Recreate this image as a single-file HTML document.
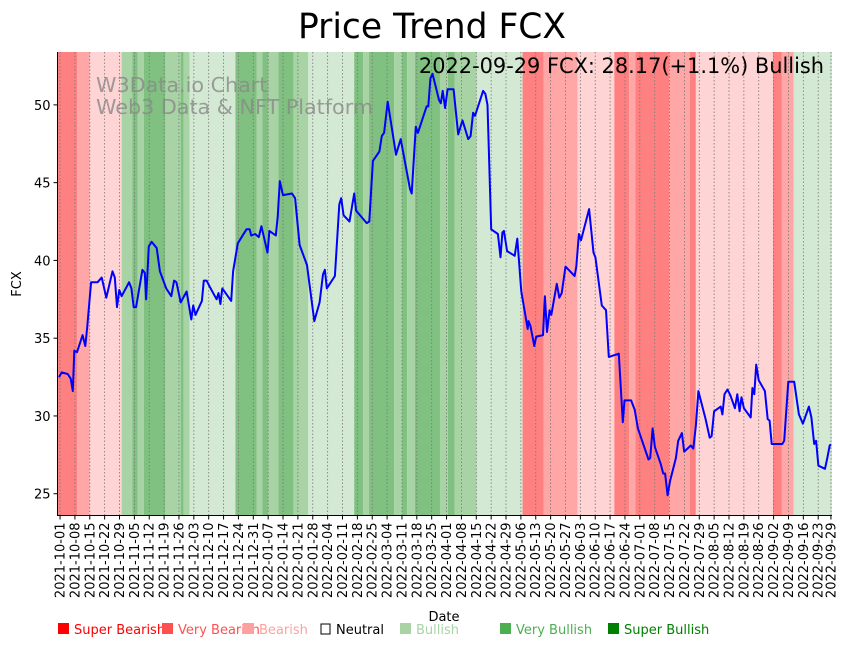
<!DOCTYPE html>
<html><head><meta charset="utf-8"><title>Price Trend FCX</title>
<style>
html,body{margin:0;padding:0;background:#fff;}
svg{display:block;font-family:"DejaVu Sans","Liberation Sans",sans-serif;}
</style></head>
<body>
<svg id="chart" width="851" height="646" viewBox="0 0 851 646" xmlns="http://www.w3.org/2000/svg">
<text x="432" y="38" font-size="34.5" text-anchor="middle" fill="#000">Price Trend FCX</text>
<g id="bands"></g>
<g id="grid"></g>
<g fill="#888" fill-opacity="0.8" font-size="20.7">
<text x="96" y="92">W3Data.io Chart</text>
<text x="96" y="114">Web3 Data &amp; NFT Platform</text>
</g>
<path id="priceLine" fill="none" stroke="#0000ff" stroke-width="2" stroke-linejoin="round"/>
<text x="824" y="73" font-size="20.9" text-anchor="end" fill="#000">2022-09-29 FCX: 28.17(+1.1%) Bullish</text>
<line x1="57.5" y1="52" x2="57.5" y2="515.5" stroke="#000" stroke-width="1"/>
<line x1="57" y1="515.5" x2="832" y2="515.5" stroke="#000" stroke-width="1"/>
<g id="yticks"></g>
<g id="xticks"></g>
<text transform="translate(21,284) rotate(-90)" font-size="13" text-anchor="middle">FCX</text>
<text x="444" y="621" font-size="13" text-anchor="middle">Date</text>
<g id="legend" font-size="13"></g>
</svg>
<script>
// ---- data ----
const startDate = "2021-10-01";
const priceDays = [-0.5,0.8,3.6,5,6,6.7,8,10.6,11.9,12.8,14.6,17.7,19.6,21.8,24.7,25.8,26.8,27.9,29,32.5,33.6,34.7,35.8,38.8,39.9,40.5,41.8,43.1,45.5,47,48.4,50,52.4,53.7,54.8,56.8,59.6,61.8,62.7,63.8,66.8,67.7,69,70.9,73.7,74.6,75.5,76.4,80.6,81.5,83.7,87.8,89.3,90,91.9,93.6,94.8,97.7,98.6,101.6,102.5,103.5,105,109.2,110.7,112.8,116.3,119.7,122.2,123.8,124.7,125.6,129.4,131.5,132.4,133.5,136.3,138.5,139.4,144.4,145.6,147.3,150.4,151.5,152.6,154.3,158.2,160.4,164.8,165.6,167.5,168.5,172.6,173.4,174.4,175.4,178.5,179.3,180.2,181.3,182.5,185.3,187.5,189.5,192.2,193.3,194.5,195.4,199.2,200.3,201.3,203,206.2,207.4,208.3,209,210.5,214.1,215.3,217.2,220.2,220.6,221.5,223.3,224.2,227.4,228.3,229.3,230.5,231.3,233.9,235.1,236.2,238,242.3,243.1,244.3,245.3,249.1,251.2,252.1,255.1,257.1,258.4,263.1,265,265.8,268.9,270.6,272.1,277.1,277.9,279,280.1,282.9,284,284.9,286.1,287.2,290,291.1,292.8,293.9,297,298.2,299.4,300.6,304,305.9,306.8,308,311.1,311.9,312.9,314.3,315.7,317.8,318.9,320,320.9,322,325.2,326,326.9,327.8,329,331.9,333.2,334.1,335.1,340.1,341,342.9,345.7,347.9,349.8,352.6,353.8,355.1,356,357.1,360.2,361.3,362.4,363];
const priceValues = [32.5,32.8,32.7,32.4,31.6,34.2,34.1,35.2,34.5,35.7,38.6,38.6,38.9,37.6,39.3,38.9,37.0,38.1,37.7,38.6,38.2,37.0,37.0,39.4,39.2,37.5,40.9,41.2,40.8,39.3,38.8,38.2,37.7,38.7,38.6,37.3,38.0,36.2,37.1,36.5,37.4,38.7,38.7,38.2,37.5,37.9,37.2,38.2,37.4,39.3,41.1,42.0,42.0,41.6,41.7,41.5,42.2,40.5,41.9,41.6,42.8,45.1,44.2,44.3,44.0,41.0,39.7,36.1,37.3,39.1,39.4,38.2,39.0,43.6,44.0,42.9,42.5,44.3,43.2,42.4,42.5,46.4,47.0,48.0,48.2,50.2,46.8,47.8,44.6,44.3,48.6,48.2,49.9,49.9,51.7,52.0,50.3,50.1,50.9,49.8,51.0,51.0,48.1,49.0,47.8,48.0,49.5,49.3,50.9,50.7,50.0,42.0,41.7,40.2,41.8,41.9,40.6,40.3,41.4,38.0,35.6,36.1,35.8,34.5,35.1,35.2,37.7,35.4,36.8,36.5,38.5,37.6,37.9,39.6,39.0,39.6,41.7,41.3,43.3,40.5,40.2,37.1,36.8,33.8,34.0,29.6,31.0,31.0,30.4,29.2,27.2,27.3,29.2,28.0,26.9,26.3,26.3,24.9,25.8,27.3,28.4,28.9,27.7,28.1,27.9,29.4,31.6,29.8,28.6,28.7,30.3,30.6,30.1,31.4,31.7,31.3,30.5,31.4,30.3,31.2,30.5,29.9,31.8,31.4,33.3,32.3,31.6,29.8,29.7,28.2,28.2,28.4,32.2,32.2,30.1,29.5,30.6,29.9,28.2,28.4,26.8,26.6,27.3,28.1,28.17];
const bandStart = [-2,8,14,29,34,36.5,39.4,49.6,56.8,58.2,61,82.6,92.5,95.3,98.1,102.8,109.9,116.9,138.5,142.7,145.5,157.3,161,163.5,167.1,178.9,182.6,185.9,196.2,217.8,227.7,243.7,261,268,270.9,286.9,296.6,299.4,335.7,339.9,345.5];
const bandEnd   = [8,14,29,34,36.5,39.4,49.6,56.8,58.2,61,82.6,92.5,95.3,98.1,102.8,109.9,116.9,138.5,142.7,145.5,157.3,161,163.5,167.1,178.9,182.6,185.9,196.2,217.8,227.7,243.7,261,268,270.9,286.9,296.6,299.4,335.7,339.9,345.5,364];
const bandLevel = [-3,-2,-1,2,3,2,3,2,3,2,1,3,2,3,2,3,2,1,3,2,3,2,3,2,3,2,3,2,1,-3,-2,-1,-3,-2,-3,-2,-3,-1,-3,-2,1];
const yTicks = [25,30,35,40,45,50];
const legendLabels = ["Super Bearish","Very Bearish","Bearish","Neutral","Bullish","Very Bullish","Super Bullish"];
const legendX = [58,162,243,320,400,500,608];

// ---- scales ----
const X0 = 57.5, X1 = 832, Y0 = 52, Y1 = 515.5;
const dMin = -1.2, dMax = 363.5;
const vMin = 23.6, vMax = 53.4;
function xs(d){ return X0 + (d - dMin) / (dMax - dMin) * (X1 - X0); }
function ys(v){ return Y1 - (v - vMin) / (vMax - vMin) * (Y1 - Y0); }
const NS = "http://www.w3.org/2000/svg";
const bandColor = {"-3":"#ff8080","-2":"#ffa6a6","-1":"#ffd4d4","1":"#d4e9d3","2":"#a8d3a5","3":"#80c080"};
const legendColor = ["#ff0000","#ff5050","#ffa0a0","none","#a8d3a5","#4caf50","#008000"];
const legendText = ["#ff0000","#ff5050","#ffa0a0","#000","#a8d3a5","#4caf50","#008000"];

const bands = document.getElementById('bands');
for (let i = 0; i < bandStart.length; i++) {
  const a = Math.max(X0 + 0.5, xs(bandStart[i])), b = Math.min(X1, xs(bandEnd[i]));
  const r = document.createElementNS(NS, 'rect');
  
  
  r.setAttribute('x', a); r.setAttribute('y', Y0);
  r.setAttribute('width', Math.max(0, b - a)); r.setAttribute('height', Y1 - Y0);
  r.setAttribute('fill', bandColor[bandLevel[i]]);
  bands.appendChild(r);
}

function fmt(dt){ const m = dt.getUTCMonth()+1, d = dt.getUTCDate(); return dt.getUTCFullYear()+"-"+(m<10?"0":"")+m+"-"+(d<10?"0":"")+d; }
const base = new Date(startDate + "T00:00:00Z");
const tickDays = []; for (let k = 0; k * 7 <= 360; k++) tickDays.push(k * 7); tickDays.push(363);
const grid = document.getElementById('grid'), xt = document.getElementById('xticks');
tickDays.forEach(d => {
  const x = xs(d);
  const gl = document.createElementNS(NS, 'line');
  
  
  gl.setAttribute('x1', x); gl.setAttribute('x2', x); gl.setAttribute('y1', Y0); gl.setAttribute('y2', Y1);
  gl.setAttribute('stroke', '#777'); gl.setAttribute('stroke-width', '0.8'); gl.setAttribute('stroke-dasharray', '1.5,2');
  grid.appendChild(gl);
  const tl = document.createElementNS(NS, 'line');
  
  
  tl.setAttribute('x1', x); tl.setAttribute('x2', x); tl.setAttribute('y1', Y1); tl.setAttribute('y2', Y1 + 4);
  tl.setAttribute('stroke', '#000');
  xt.appendChild(tl);
  const t = document.createElementNS(NS, 'text');
  
  
  t.setAttribute('transform', 'translate(' + (x + 4.5) + ',' + (Y1 + 7) + ') rotate(-90)');
  t.setAttribute('text-anchor', 'end'); t.setAttribute('font-size', '13');
  t.textContent = fmt(new Date(base.getTime() + d * 86400000));
  xt.appendChild(t);
});

const yt = document.getElementById('yticks');
yTicks.forEach(v => {
  const y = ys(v);
  const l = document.createElementNS(NS, 'line');
  
  
  l.setAttribute('x1', X0 - 4); l.setAttribute('x2', X0); l.setAttribute('y1', y); l.setAttribute('y2', y);
  l.setAttribute('stroke', '#000');
  yt.appendChild(l);
  const t = document.createElementNS(NS, 'text');
  
  
  t.setAttribute('x', X0 - 7); t.setAttribute('y', y + 5);
  t.setAttribute('text-anchor', 'end'); t.setAttribute('font-size', '13');
  t.textContent = v;
  yt.appendChild(t);
});

let dStr = "";
for (let i = 0; i < priceDays.length; i++) dStr += (i ? "L" : "M") + xs(priceDays[i]).toFixed(1) + "," + ys(priceValues[i]).toFixed(1);
document.getElementById('priceLine').setAttribute('d', dStr);

const lg = document.getElementById('legend');
legendLabels.forEach((lab, i) => {
  const r = document.createElementNS(NS, 'rect');
  
  
  r.setAttribute('x', legendX[i]); r.setAttribute('y', 623); r.setAttribute('width', 11); r.setAttribute('height', 11);
  r.setAttribute('fill', legendColor[i] === 'none' ? '#fff' : legendColor[i]);
  if (legendColor[i] === 'none') { r.setAttribute('stroke', '#000'); r.setAttribute('x', legendX[i] + 1); r.setAttribute('y', 624); r.setAttribute('width', 9); r.setAttribute('height', 10); }
  lg.appendChild(r);
  const t = document.createElementNS(NS, 'text');
  
  
  t.setAttribute('x', legendX[i] + 16); t.setAttribute('y', 634);
  t.setAttribute('fill', legendText[i]);
  t.textContent = lab;
  lg.appendChild(t);
});
</script>
</body></html>
